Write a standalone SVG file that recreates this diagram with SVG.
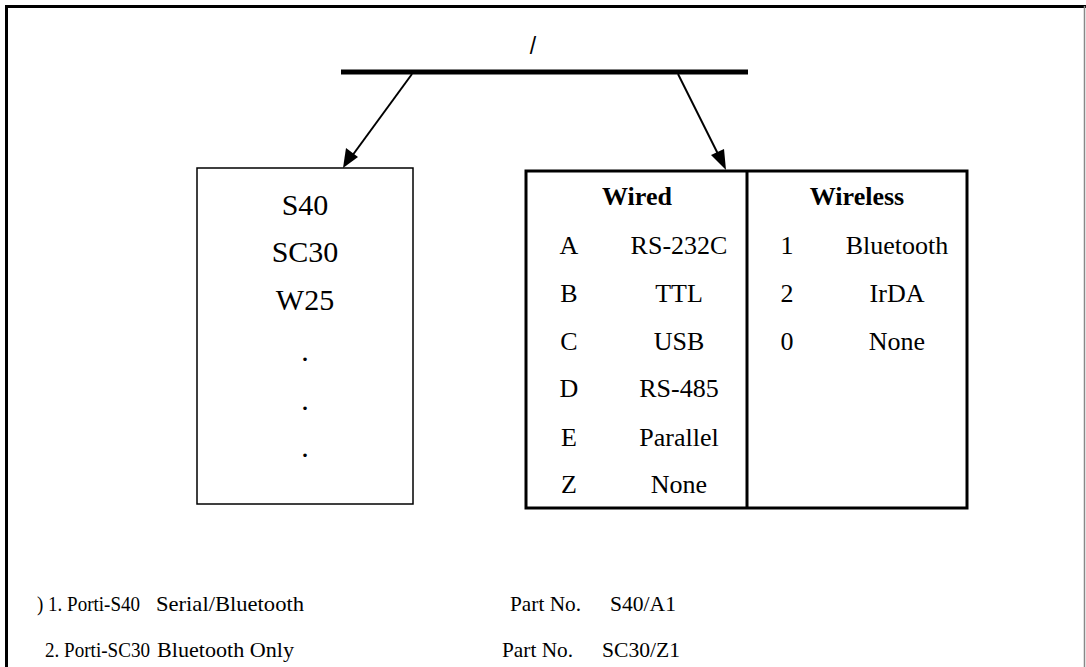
<svg xmlns="http://www.w3.org/2000/svg" width="1086" height="667" viewBox="0 0 1086 667">
<style>
.t{font-family:"Liberation Serif","Times New Roman",serif;fill:#000}
.c{text-anchor:middle}
.b{font-weight:bold}
.conn{stroke:#000;stroke-width:2;fill:none}
.head{fill:#000;stroke:none}
</style>
<rect width="1086" height="667" fill="#fff"/>
<g id="frame">
<line x1="6.5" y1="5" x2="6.5" y2="667" stroke="#000" stroke-width="3"/>
<line x1="5" y1="6.5" x2="1086" y2="6.5" stroke="#000" stroke-width="3"/>
<line x1="1084.5" y1="6" x2="1084.5" y2="667" stroke="#888" stroke-width="1.5"/>
</g>
<g id="root">
<text class="c" x="533" y="54" style="font-family:'Liberation Sans',Arial,sans-serif;font-size:23px">/</text>
<line x1="341" y1="72" x2="748" y2="72" stroke="#000" stroke-width="5"/>
</g>
<g id="connectors">
<line class="conn" x1="412" y1="74" x2="352" y2="156"/>
<line class="conn" x1="678" y1="74" x2="719" y2="156"/>
<path class="head" d="M343,168 L346,148 L358,157 z"/>
<path class="head" d="M726,170 L711,155 L724,149 z"/>
</g>
<g id="models">
<rect x="197" y="168" width="216" height="336" fill="none" stroke="#000" stroke-width="1.5"/>
<text class="t c" x="305" y="215" font-size="30">S40</text>
<text class="t c" x="305" y="262" font-size="30">SC30</text>
<text class="t c" x="305" y="310" font-size="30">W25</text>
<text class="t c" x="305" y="361" font-size="30">.</text>
<text class="t c" x="305" y="410" font-size="30">.</text>
<text class="t c" x="305" y="457" font-size="30">.</text>
</g>
<g id="interfaces">
<rect x="526" y="171" width="441" height="337" fill="none" stroke="#000" stroke-width="3"/>
<line x1="747" y1="171" x2="747" y2="508" stroke="#000" stroke-width="3"/>
<g font-size="26">
<text class="t c b" x="637" y="205">Wired</text>
<text class="t c b" x="857" y="205">Wireless</text>
<text class="t c" x="569" y="254">A</text><text class="t c" x="679" y="254">RS-232C</text>
<text class="t c" x="569" y="302">B</text><text class="t c" x="679" y="302">TTL</text>
<text class="t c" x="569" y="350">C</text><text class="t c" x="679" y="350">USB</text>
<text class="t c" x="569" y="397">D</text><text class="t c" x="679" y="397">RS-485</text>
<text class="t c" x="569" y="446">E</text><text class="t c" x="679" y="446">Parallel</text>
<text class="t c" x="569" y="493">Z</text><text class="t c" x="679" y="493">None</text>
<text class="t c" x="787" y="254">1</text><text class="t c" x="897" y="254">Bluetooth</text>
<text class="t c" x="787" y="302">2</text><text class="t c" x="897" y="302">IrDA</text>
<text class="t c" x="787" y="350">0</text><text class="t c" x="897" y="350">None</text>
</g>
</g>
<g id="examples" font-size="22">
<text class="t" x="37" y="611" textLength="103" lengthAdjust="spacingAndGlyphs">) 1. Porti-S40</text>
<text class="t" x="156" y="611" textLength="148" lengthAdjust="spacingAndGlyphs">Serial/Bluetooth</text>
<text class="t" x="510" y="611" textLength="71" lengthAdjust="spacingAndGlyphs">Part No.</text>
<text class="t" x="610" y="611" textLength="66" lengthAdjust="spacingAndGlyphs">S40/A1</text>
<text class="t" x="45" y="657" textLength="105" lengthAdjust="spacingAndGlyphs">2. Porti-SC30</text>
<text class="t" x="157" y="657" textLength="137" lengthAdjust="spacingAndGlyphs">Bluetooth Only</text>
<text class="t" x="502" y="657" textLength="71" lengthAdjust="spacingAndGlyphs">Part No.</text>
<text class="t" x="602" y="657" textLength="78" lengthAdjust="spacingAndGlyphs">SC30/Z1</text>
</g>
</svg>
